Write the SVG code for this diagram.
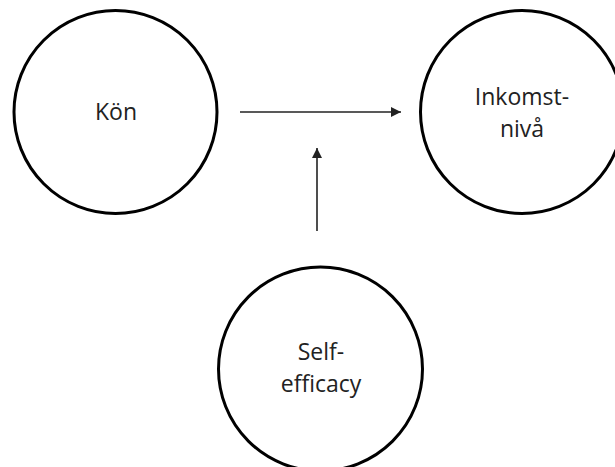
<svg xmlns="http://www.w3.org/2000/svg" width="615" height="467" viewBox="0 0 615 467">
<style>
.node{fill:#fff;stroke:#000;stroke-width:3}
.lbl{font-family:"Open Sans","Noto Sans",sans-serif;font-size:23px;fill:#222;text-anchor:middle}
.edge{stroke:#222;stroke-width:1.6;fill:none;marker-end:url(#ah)}
</style>
<defs>
<marker id="ah" viewBox="0 0 10 10" refX="10" refY="5" markerWidth="10" markerHeight="10" markerUnits="userSpaceOnUse" orient="auto">
<path d="M0,0 L10,5 L0,10 z" fill="#222"/>
</marker>
</defs>
<rect width="615" height="467" fill="#fff"/>
<g id="kon">
<circle class="node" cx="115.5" cy="112" r="101.5"/>
<text class="lbl" x="116" y="120">Kön</text>
</g>
<g id="inkomstniva">
<circle class="node" cx="522" cy="112" r="101.5"/>
<text class="lbl" x="522" y="105">Inkomst-</text>
<text class="lbl" x="522" y="137">nivå</text>
</g>
<g id="selfefficacy">
<circle class="node" cx="320.5" cy="369" r="102"/>
<text class="lbl" x="321" y="360">Self-</text>
<text class="lbl" x="321" y="392">efficacy</text>
</g>
<g id="connectors">
<line class="edge" x1="240" y1="112" x2="401" y2="112"/>
<line class="edge" x1="317" y1="231" x2="317" y2="148"/>
</g>
</svg>
